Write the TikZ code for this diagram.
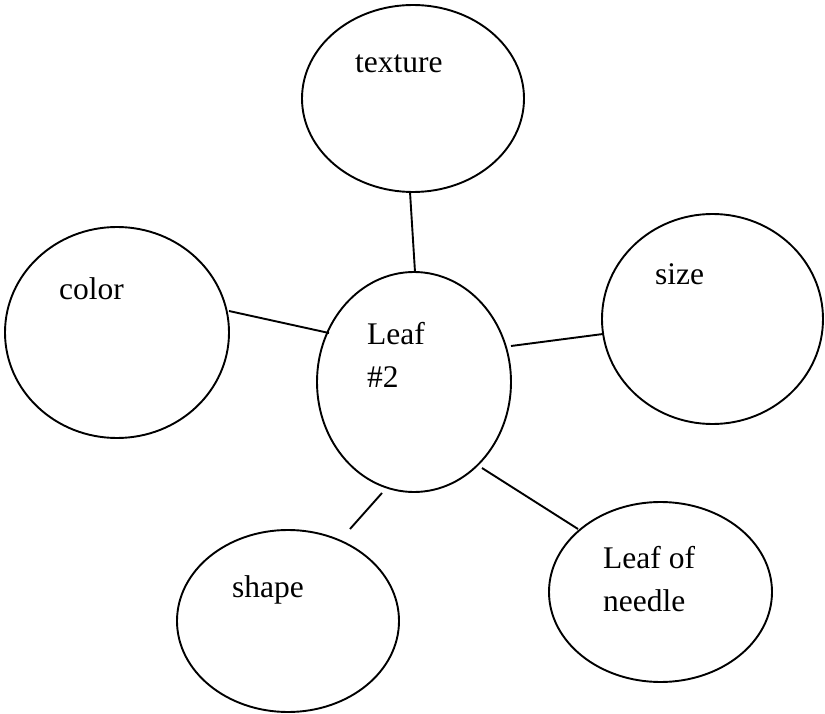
\documentclass[tikz,border=0pt]{standalone}
\usepackage{fontspec}
\setmainfont{Liberation Serif}
\usetikzlibrary{shapes.geometric}
\begin{document}
\begin{tikzpicture}[x=1pt,y=-1pt,
  bubble/.style={draw, line width=1.9pt, ellipse, inner sep=0pt},
  lbl/.style={anchor=base west, inner sep=0pt, font=\fontsize{31.5}{43}\selectfont, align=left},
  conn/.style={line width=1.9pt}]
\useasboundingbox (0,0) rectangle (825,714);
% ellipses
\node[bubble, minimum width=222pt, minimum height=187pt] (texture) at (413,98.5) {};
\node[bubble, minimum width=224pt, minimum height=211pt] (color) at (117,332.5) {};
\node[bubble, minimum width=194pt, minimum height=220pt] (leaf) at (414,382) {};
\node[bubble, minimum width=221pt, minimum height=210pt] (size) at (712.5,319) {};
\node[bubble, minimum width=222pt, minimum height=182pt] (shape) at (288,621) {};
\node[bubble, minimum width=223pt, minimum height=180pt] (needle) at (660.5,592) {};
% labels
\node[lbl] (ttexture) at (355,73) {texture};
\node[lbl] (tcolor) at (59,299) {color};
\node[lbl] (tsize) at (655,285) {size};
\node[lbl] (tleaf1) at (367,344) {Leaf};
\node[lbl] (tleaf2) at (367,387) {\#2};
\node[lbl] (tshape) at (232,597) {shape};
\node[lbl] (tneedle1) at (603,568) {Leaf of};
\node[lbl] (tneedle2) at (603,611) {needle};
% connector end points
\coordinate (a1) at (410,192);  \coordinate (a2) at (415,272);
\coordinate (b1) at (229,311);  \coordinate (b2) at (329,333);
\coordinate (c1) at (511,346);  \coordinate (c2) at (603,334);
\coordinate (d1) at (382,493);  \coordinate (d2) at (350,529);
\coordinate (e1) at (482,468);  \coordinate (e2) at (578,529);
\draw[conn] (a1) -- (a2);
\draw[conn] (b1) -- (b2);
\draw[conn] (c1) -- (c2);
\draw[conn] (d1) -- (d2);
\draw[conn] (e1) -- (e2);
\end{tikzpicture}
\end{document}
